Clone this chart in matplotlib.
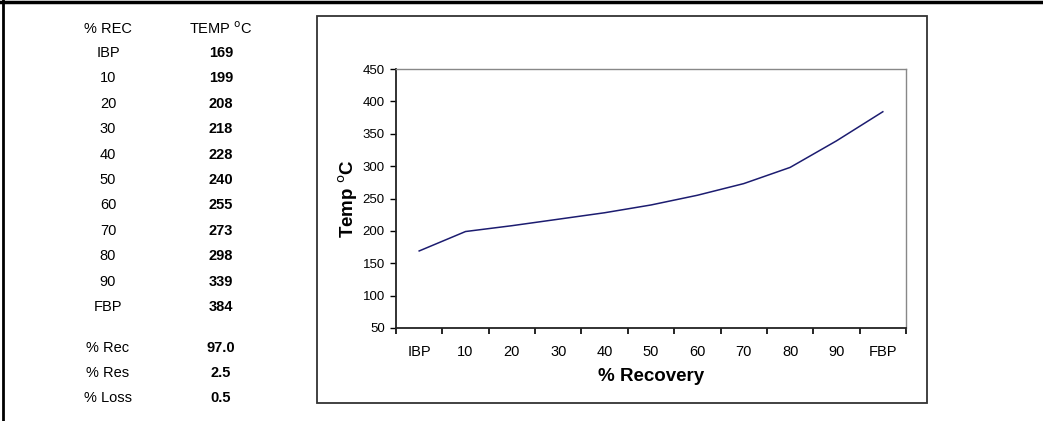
import matplotlib.pyplot as plt
from matplotlib.lines import Line2D
from matplotlib.patches import Rectangle

plt.rcParams['font.family'] = ['Liberation Sans', 'DejaVu Sans']

recLabels = ['IBP', '10', '20', '30', '40', '50', '60', '70', '80', '90', 'FBP']
temps = [169, 199, 208, 218, 228, 240, 255, 273, 298, 339, 384]
summaryLabels = ['% Rec', '% Res', '% Loss']
summaryValues = ['97.0', '2.5', '0.5']

W, H = 1043, 421
fig = plt.figure(figsize=(W / 100, H / 100), dpi=100)

def fx(px):
    return px / W

def fy(py):
    return 1 - py / H

# outer frame (top and left only)
fig.add_artist(Line2D([0, 1], [fy(1.5), fy(1.5)], color='black', lw=2.5))
fig.add_artist(Line2D([fx(3), fx(3)], [0, 1], color='black', lw=2))

# chart box
fig.add_artist(Rectangle((fx(317), fy(403)), fx(927) - fx(317), fy(16) - fy(403),
                         fill=False, edgecolor='#333333', lw=1.3))

# table on the left
col1, col2 = 108, 221
tsize = 10.5
fig.text(fx(col1), fy(29), '% REC', ha='center', va='center', fontsize=tsize)
fig.text(fx(col2), fy(29), 'TEMP $^{\\rm o}$C', ha='center', va='center', fontsize=tsize)
rowY = 53
for lab, t in zip(recLabels, temps):
    fig.text(fx(col1), fy(rowY), lab, ha='center', va='center', fontsize=tsize)
    fig.text(fx(col2), fy(rowY), str(t), ha='center', va='center', fontsize=tsize, fontweight='bold')
    rowY += 25.4
rowY = 348
for lab, v in zip(summaryLabels, summaryValues):
    fig.text(fx(col1), fy(rowY), lab, ha='center', va='center', fontsize=tsize)
    fig.text(fx(col2), fy(rowY), v, ha='center', va='center', fontsize=tsize, fontweight='bold')
    rowY += 25

# chart
ax = fig.add_axes([fx(396), fy(328), fx(906) - fx(396), fy(69) - fy(328)])
x = list(range(len(recLabels)))
ax.plot(x, temps, color='#1c1c70', lw=1.1)
ax.set_xlim(-0.5, len(recLabels) - 0.5)
ax.set_ylim(50, 450)
ax.set_yticks(range(50, 451, 50))
ax.set_xticks([i - 0.5 for i in range(len(recLabels) + 1)])
ax.set_xticklabels([])
ax.set_xticks(x, minor=True)
ax.set_xticklabels(recLabels, minor=True)
ax.tick_params(axis='x', which='major', direction='out', length=4, width=1.2, color='black')
ax.tick_params(axis='x', which='minor', length=0, pad=12, labelsize=10.5)
ax.tick_params(axis='y', direction='out', length=4, width=1, pad=4, labelsize=9.5)
for s in ['top', 'right']:
    ax.spines[s].set_color('#888888')
    ax.spines[s].set_linewidth(1)
for s in ['left', 'bottom']:
    ax.spines[s].set_color('#222222')
    ax.spines[s].set_linewidth(1.3)
ax.set_xlabel('% Recovery', fontsize=13.5, fontweight='bold', labelpad=7)
ax.set_ylabel('Temp $^{\\rm o}$C', fontsize=13.5, fontweight='bold', labelpad=2)

fig.savefig('out.png', dpi=100)
